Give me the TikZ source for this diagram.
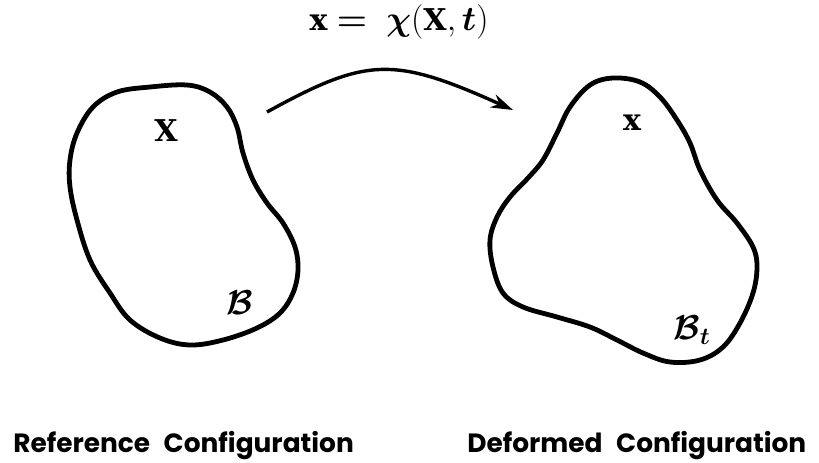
\documentclass[tikz,border=0pt]{standalone}
\usepackage[no-math]{fontspec}
\usepackage{bm}
\usetikzlibrary{arrows.meta}
\newfontfamily\conffont{Poppins}
\newfontfamily\letfont{DejaVu Serif}
\newcommand{\boldlet}[1]{\mbox{\letfont\bfseries\fontsize{15}{18}\selectfont #1}}
\tikzset{
  body/.style={line width=2.4pt, line join=round},
  maparrow/.style={line width=1.7pt, -{Stealth[length=11pt,width=7pt]}},
  pointlabel/.style={font=\fontsize{17}{20}\selectfont},
  conflabel/.style={font=\conffont\bfseries\fontsize{13.2}{16}\selectfont, anchor=base west, inner sep=0pt}
}
\begin{document}
\begin{tikzpicture}[x=0.5pt,y=-0.5pt]
\useasboundingbox (0,0) rectangle (819,462);

% reference body
\draw[body] plot[smooth cycle, tension=0.6] coordinates {
  (150,87) (187,85) (210,92) (227,107) (237,127) (243,153) (253,180) (267,203)
  (283,223) (295,247) (298,270) (293,293) (280,313) (257,328) (223,340) (190,345)
  (160,338) (130,320) (110,293) (90,260) (77,220) (70,187) (70,160) (77,133)
  (93,107) (117,92)};

% deformed body
\draw[body] plot[smooth cycle, tension=0.6] coordinates {
  (613,78) (640,82) (660,97) (677,120) (690,143) (700,170) (717,200) (737,223)
  (753,247) (757,267) (753,293) (740,323) (723,347) (700,360) (670,362) (643,353)
  (617,340) (590,327) (557,317) (523,307) (503,293) (493,267) (490,240) (497,217)
  (510,197) (528,178) (543,160) (557,133) (570,107) (590,85)};

\node[pointlabel] (refpt) at (166,131) {\boldlet{X}};
\node[pointlabel] (defpt) at (632,123) {\boldlet{x}};
\node[pointlabel] (refbody) at (240,303) {$\bm{\mathcal{B}}$};
\node[pointlabel] (defbody) at (692,330) {$\bm{\mathcal{B}_t}$};

% the motion
\coordinate (mapstart) at (267,112);
\coordinate (mapend) at (513,110);
\draw[maparrow] (mapstart) .. controls +(100,-55) and +(-120,-54) .. (mapend);
\node[pointlabel, anchor=base] (motion) at (399,30)
  {$\boldlet{x} \bm{=} \; \bm{\chi}(\boldlet{X},\bm{t})$};

\node[conflabel] (reflabel) at (13,452) {Reference\hspace{0.3em} Configuration};
\node[conflabel] (deflabel) at (467,452) {Deformed\hspace{0.3em} Configuration};
\end{tikzpicture}
\end{document}
